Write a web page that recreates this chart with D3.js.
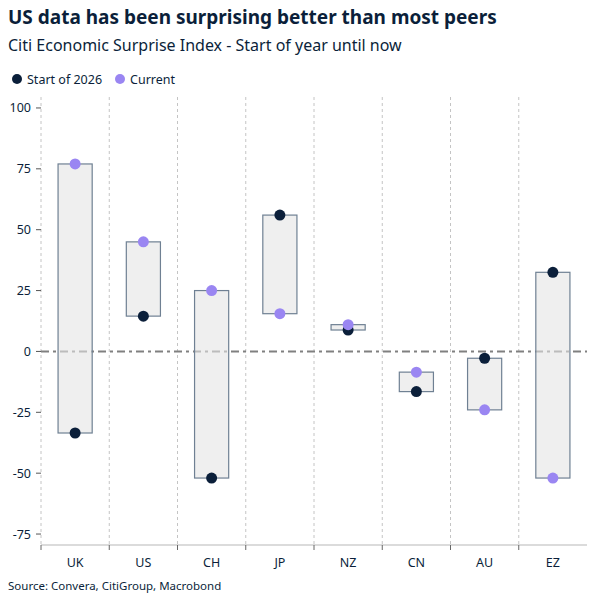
<!DOCTYPE html>
<html>
<head>
<meta charset="utf-8">
<script src="https://cdn.jsdelivr.net/npm/d3@7"></script>
<style>
  body { margin: 0; background: #fff; }
  text { font-family: "Noto Sans", "Open Sans", sans-serif; }
</style>
</head>
<body>
<div id="chart"></div>
<script>
// chart values
const countries = ["UK", "US", "CH", "JP", "NZ", "CN", "AU", "EZ"];
const startOf2026 = [-33.5, 14.5, -52, 56, 8.8, -16.5, -2.8, 32.5];
const current = [77, 45, 25, 15.5, 11, -8.5, -24, -52];
const yTicks = [-75, -50, -25, 0, 25, 50, 75, 100];

const navy = "#0b1f3a", purple = "#9a86f2";

const width = 605, height = 606;
const margin = {top: 97, right: 18, bottom: 61, left: 41};

const svg = d3.select("#chart").append("svg")
  .attr("width", width)
  .attr("height", height);

// titles
svg.append("text").attr("x", 8).attr("y", 24)
  .style("font-size", "19px").style("font-weight", "bold").attr("fill", navy)
  .text("US data has been surprising better than most peers");
svg.append("text").attr("x", 8).attr("y", 51)
  .style("font-size", "16px").attr("fill", navy)
  .text("Citi Economic Surprise Index - Start of year until now");

// legend
let legend = svg.append("g").attr("transform", "translate(17,79)");
legend.append("circle").attr("r", 5).attr("fill", navy);
legend.append("text").attr("x", 10).attr("y", 4.5).style("font-size", "12.5px").attr("fill", navy).text("Start of 2026");
legend.append("circle").attr("cx", 103).attr("r", 5).attr("fill", purple);
legend.append("text").attr("x", 113).attr("y", 4.5).style("font-size", "12.5px").attr("fill", navy).text("Current");

// scales
const x = d3.scaleBand().domain(countries)
  .range([margin.left, width - margin.right]).padding(0);
const y = d3.scaleLinear().domain([-79.5, 104.5])
  .range([height - margin.bottom, margin.top]);

const g = svg.append("g");

// vertical dashed grid at band edges
const edges = countries.map(c => x(c));
g.selectAll(".vgrid").data(edges).enter().append("line")
  .attr("x1", d => d).attr("x2", d => d)
  .attr("y1", margin.top).attr("y2", height - margin.bottom)
  .attr("stroke", "#c4c4c4").attr("stroke-width", 1)
  .attr("stroke-dasharray", "3,3");

// y axis ticks + labels
g.selectAll(".ytick").data(yTicks).enter().append("line")
  .attr("x1", margin.left - 5).attr("x2", margin.left)
  .attr("y1", d => y(d)).attr("y2", d => y(d))
  .attr("stroke", "#555");
g.selectAll(".ylab").data(yTicks).enter().append("text")
  .attr("x", margin.left - 10).attr("y", d => y(d) + 4.5)
  .attr("text-anchor", "end").style("font-size", "12.5px").attr("fill", navy)
  .text(d => d);

// x axis
const yBase = height - margin.bottom;
g.append("line").attr("x1", margin.left).attr("x2", width - margin.right)
  .attr("y1", yBase).attr("y2", yBase).attr("stroke", "#cfcfcf").attr("stroke-width", 1.5);
g.selectAll(".xtick").data(edges).enter().append("line")
  .attr("x1", d => d).attr("x2", d => d)
  .attr("y1", yBase).attr("y2", yBase + 5).attr("stroke", "#666");
g.selectAll(".xlab").data(countries).enter().append("text")
  .attr("x", d => x(d) + x.bandwidth() / 2).attr("y", yBase + 22)
  .attr("text-anchor", "middle").style("font-size", "12.5px").attr("fill", navy)
  .text(d => d);

// zero line (dash-dot)
g.append("line").attr("x1", margin.left).attr("x2", width - margin.right)
  .attr("y1", y(0)).attr("y2", y(0))
  .attr("stroke", "#808080").attr("stroke-width", 2)
  .attr("stroke-dasharray", "8,4,3,4");

// range bars
const bw = x.bandwidth() / 2;
g.selectAll(".bar").data(countries).enter().append("rect")
  .attr("x", d => x(d) + x.bandwidth() / 2 - bw / 2)
  .attr("width", bw)
  .attr("y", (d, i) => y(Math.max(startOf2026[i], current[i])))
  .attr("height", (d, i) => Math.abs(y(startOf2026[i]) - y(current[i])))
  .attr("fill", "#e4e4e4").attr("fill-opacity", 0.6)
  .attr("stroke", "#6f8093").attr("stroke-width", 1.2);

// dots
g.selectAll(".dstart").data(countries).enter().append("circle")
  .attr("cx", d => x(d) + x.bandwidth() / 2)
  .attr("cy", (d, i) => y(startOf2026[i]))
  .attr("r", 5.5).attr("fill", navy);
g.selectAll(".dcur").data(countries).enter().append("circle")
  .attr("cx", d => x(d) + x.bandwidth() / 2)
  .attr("cy", (d, i) => y(current[i]))
  .attr("r", 5.5).attr("fill", purple);

// source
svg.append("text").attr("x", 8).attr("y", 590)
  .style("font-size", "11.5px").attr("fill", navy)
  .text("Source: Convera, CitiGroup, Macrobond");
</script>
</body>
</html>
